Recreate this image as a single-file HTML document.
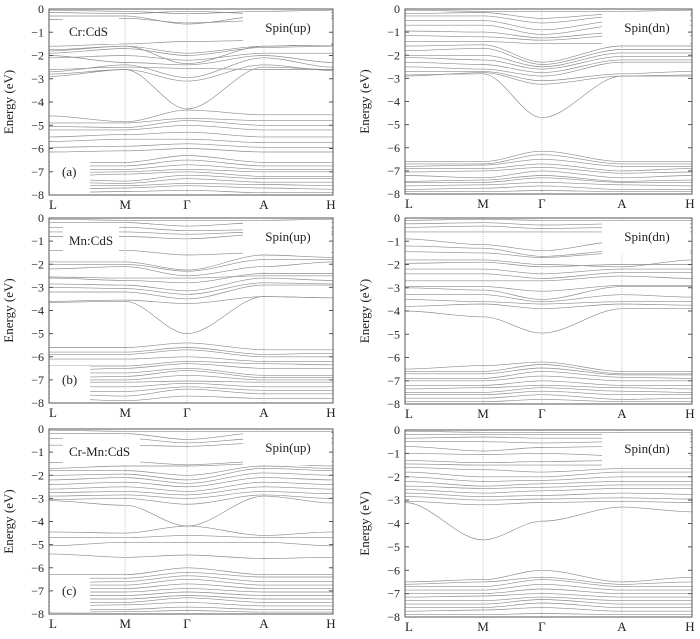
<!DOCTYPE html>
<html><head><meta charset="utf-8">
<style>
html,body{margin:0;padding:0;background:#fff;}
svg{display:block;font-family:"Liberation Serif",serif;}
</style></head>
<body>
<svg id="fig" width="700" height="639" viewBox="0 0 700 639"></svg>
<script>
const kLabels = ["L","M","Γ","A","H"];
const yTicks = [0,-1,-2,-3,-4,-5,-6,-7,-8];
// band energies (eV) at L, M, Γ, A, H
const bandsCrUp = [
 [-0.05,-0.1,-0.2,-0.1,-0.05],[-0.15,-0.2,-0.1,-0.2,-0.15],[-0.3,-0.3,-0.65,-0.3,-0.3],[-0.45,-0.4,-0.6,-0.5,-0.4],
 [-1.6,-1.5,-1.4,-1.35,-1.5],[-1.8,-1.6,-1.9,-1.6,-1.5],[-1.75,-1.6,-2.35,-1.6,-1.55],[-1.9,-1.7,-2.0,-1.65,-1.6],
 [-2.0,-2.3,-2.4,-2.0,-2.3],[-2.1,-2.0,-2.2,-1.9,-1.9],[-2.6,-2.5,-2.55,-2.6,-2.6],[-2.7,-2.4,-2.95,-2.1,-2.5],
 [-2.9,-2.6,-3.1,-2.4,-2.65],[-2.8,-2.6,-4.3,-2.5,-2.6],
 [-4.6,-4.85,-4.35,-4.55,-4.55],[-4.9,-4.9,-4.7,-4.8,-4.8],[-5.05,-5.1,-4.8,-5.0,-5.0],[-5.2,-5.2,-5.0,-5.2,-5.2],
 [-5.5,-5.4,-5.3,-5.5,-5.5],[-5.7,-5.6,-5.6,-5.75,-5.75],[-5.95,-5.9,-5.8,-5.95,-5.95],[-6.15,-6.1,-6.0,-6.15,-6.15],
 [-6.6,-6.6,-6.3,-6.6,-6.6],[-6.75,-6.75,-6.5,-6.75,-6.75],[-6.9,-6.9,-6.7,-6.9,-6.9],[-7.05,-7.0,-6.9,-7.0,-7.0],
 [-7.2,-7.1,-7.0,-7.2,-7.2],[-7.3,-7.4,-7.15,-7.3,-7.3],[-7.45,-7.5,-7.3,-7.45,-7.45],[-7.6,-7.6,-7.5,-7.55,-7.6],
 [-7.75,-7.7,-7.6,-7.7,-7.75],[-7.9,-7.85,-7.8,-7.9,-7.9]
];
const bandsCrDn = [
 [-0.05,-0.1,-0.1,-0.1,-0.05],[-0.2,-0.15,-0.4,-0.2,-0.2],[-0.3,-0.3,-0.6,-0.3,-0.3],[-0.5,-0.5,-0.9,-0.5,-0.5],
 [-0.7,-0.7,-1.1,-0.7,-0.7],[-0.95,-1.0,-1.25,-1.0,-1.0],[-1.15,-1.2,-1.35,-1.15,-1.15],[-1.4,-1.4,-1.5,-1.5,-1.5],
 [-1.6,-1.55,-2.3,-1.6,-1.6],[-1.8,-1.7,-2.4,-1.75,-1.75],[-2.0,-2.0,-2.5,-1.9,-1.9],[-2.1,-2.2,-2.6,-2.05,-2.05],
 [-2.3,-2.4,-2.75,-2.2,-2.2],[-2.5,-2.6,-2.9,-2.3,-2.3],[-2.7,-2.7,-3.1,-2.8,-2.7],[-2.9,-2.75,-3.25,-2.9,-2.85],
 [-2.85,-2.8,-4.7,-2.9,-2.9],
 [-6.6,-6.6,-6.15,-6.6,-6.6],[-6.7,-6.7,-6.3,-6.7,-6.7],[-6.8,-6.75,-6.5,-6.8,-6.8],[-6.9,-6.9,-6.7,-7.0,-6.9],
 [-7.05,-7.0,-6.85,-7.1,-7.05],[-7.2,-7.3,-7.0,-7.3,-7.2],[-7.45,-7.4,-7.2,-7.45,-7.4],[-7.5,-7.5,-7.3,-7.5,-7.5],
 [-7.65,-7.6,-7.5,-7.6,-7.65],[-7.8,-7.75,-7.65,-7.8,-7.8],[-7.9,-7.9,-7.85,-7.9,-7.9]
];
const bandsMnUp = [
 [-0.05,-0.1,-0.1,-0.1,-0.05],[-0.2,-0.2,-0.35,-0.2,-0.2],[-0.4,-0.4,-0.55,-0.5,-0.4],[-0.6,-0.6,-0.7,-0.6,-0.6],
 [-0.8,-0.8,-0.9,-0.7,-0.7],[-1.4,-1.4,-1.6,-1.5,-1.5],[-1.9,-1.9,-2.25,-1.6,-1.7],[-2.0,-2.0,-2.3,-1.8,-1.8],
 [-2.2,-2.1,-2.5,-2.1,-1.9],[-2.55,-2.6,-2.6,-2.5,-2.5],[-2.6,-2.7,-2.8,-2.4,-2.4],[-2.85,-2.9,-3.15,-2.6,-2.7],
 [-3.0,-3.05,-3.3,-2.8,-2.85],[-3.2,-3.2,-3.5,-2.9,-2.9],[-3.6,-3.55,-3.7,-3.4,-3.45],[-3.65,-3.6,-5.0,-3.4,-3.45],
 [-5.6,-5.6,-5.4,-5.7,-5.7],[-5.8,-5.8,-5.6,-5.9,-5.85],[-5.9,-5.9,-5.7,-6.0,-6.0],[-6.1,-6.1,-6.0,-6.2,-6.2],
 [-6.4,-6.4,-6.2,-6.3,-6.35],[-6.6,-6.5,-6.3,-6.5,-6.5],[-6.7,-6.7,-6.5,-6.8,-6.8],[-6.9,-6.85,-6.6,-6.9,-6.9],
 [-7.0,-7.0,-6.8,-7.0,-7.0],[-7.1,-7.1,-7.05,-7.1,-7.1],[-7.3,-7.3,-7.15,-7.3,-7.3],[-7.5,-7.5,-7.3,-7.45,-7.45],
 [-7.6,-7.7,-7.4,-7.6,-7.6],[-7.8,-7.9,-7.7,-7.8,-7.8]
];
const bandsMnDn = [
 [-0.1,-0.05,-0.1,-0.1,-0.1],[-0.25,-0.2,-0.3,-0.25,-0.25],[-0.4,-0.35,-0.45,-0.4,-0.4],[-0.6,-0.6,-0.6,-0.6,-0.6],
 [-0.9,-1.15,-1.4,-1.0,-1.0],[-1.2,-1.3,-1.65,-1.4,-1.4],[-1.45,-1.5,-1.7,-1.5,-1.5],[-1.8,-1.8,-2.0,-2.1,-1.8],
 [-1.95,-1.9,-2.1,-2.0,-2.0],[-2.2,-2.2,-2.4,-2.2,-2.2],[-2.4,-2.4,-2.6,-2.35,-2.35],[-2.7,-2.7,-2.7,-2.5,-2.6],
 [-2.95,-2.95,-3.15,-2.9,-2.9],[-3.0,-3.1,-3.5,-2.95,-2.95],[-3.3,-3.3,-3.6,-3.3,-3.4],[-3.5,-3.6,-3.7,-3.6,-3.6],
 [-3.8,-3.7,-3.9,-3.7,-3.75],[-4.0,-4.25,-4.95,-3.9,-3.9],
 [-6.5,-6.35,-6.2,-6.6,-6.6],[-6.6,-6.6,-6.3,-6.7,-6.7],[-6.7,-6.7,-6.45,-6.75,-6.75],[-6.9,-6.9,-6.6,-6.85,-6.9],
 [-7.0,-7.0,-6.8,-7.0,-7.0],[-7.2,-7.2,-7.0,-7.2,-7.2],[-7.35,-7.3,-7.2,-7.3,-7.35],[-7.5,-7.5,-7.3,-7.45,-7.5],
 [-7.6,-7.6,-7.45,-7.6,-7.6],[-7.75,-7.75,-7.6,-7.8,-7.75],[-7.9,-7.9,-7.8,-7.9,-7.9]
];
const bandsCrMnUp = [
 [-0.05,-0.1,-0.1,-0.1,-0.1],[-0.2,-0.2,-0.45,-0.15,-0.15],[-0.4,-0.4,-0.6,-0.4,-0.4],[-0.7,-0.7,-0.75,-0.6,-0.6],
 [-1.45,-1.4,-1.55,-1.4,-1.4],[-1.7,-1.6,-1.6,-1.5,-1.6],[-1.8,-1.8,-2.0,-1.6,-1.7],[-2.0,-1.95,-2.2,-1.7,-1.8],
 [-2.2,-2.1,-2.35,-1.9,-2.0],[-2.4,-2.3,-2.5,-2.1,-2.2],[-2.6,-2.5,-2.7,-2.3,-2.4],[-2.75,-2.7,-2.85,-2.5,-2.6],
 [-2.9,-2.85,-3.0,-2.7,-2.8],[-3.05,-3.0,-3.25,-2.85,-3.0],[-3.1,-3.3,-4.2,-2.9,-3.2],
 [-4.45,-4.5,-4.2,-4.6,-4.45],[-4.7,-4.7,-4.6,-4.7,-4.7],[-5.05,-4.9,-4.9,-4.9,-5.05],[-5.4,-5.55,-5.45,-5.6,-5.55],
 [-6.3,-6.3,-6.0,-6.3,-6.3],[-6.45,-6.45,-6.2,-6.4,-6.4],[-6.65,-6.6,-6.35,-6.6,-6.6],[-6.75,-6.75,-6.5,-6.75,-6.75],
 [-6.9,-6.9,-6.7,-6.9,-6.9],[-7.05,-7.05,-6.9,-7.05,-7.05],[-7.2,-7.2,-7.05,-7.2,-7.2],[-7.35,-7.35,-7.2,-7.35,-7.35],
 [-7.5,-7.5,-7.3,-7.5,-7.5],[-7.65,-7.6,-7.5,-7.65,-7.65],[-7.8,-7.8,-7.7,-7.8,-7.8],[-7.92,-7.9,-7.85,-7.92,-7.92]
];
const bandsCrMnDn = [
 [-0.05,-0.1,-0.1,-0.1,-0.1],[-0.2,-0.2,-0.2,-0.2,-0.2],[-0.35,-0.3,-0.35,-0.35,-0.35],[-0.5,-0.5,-0.55,-0.5,-0.5],
 [-0.7,-0.9,-0.75,-0.7,-0.75],[-1.0,-1.05,-1.0,-1.1,-1.1],[-1.3,-1.4,-1.35,-1.3,-1.3],[-1.45,-1.5,-1.5,-1.5,-1.5],
 [-1.6,-1.7,-1.8,-1.65,-1.65],[-1.8,-2.0,-2.0,-1.8,-1.8],[-2.0,-2.2,-2.15,-2.0,-2.0],[-2.2,-2.4,-2.3,-2.2,-2.2],
 [-2.4,-2.5,-2.45,-2.35,-2.35],[-2.55,-2.7,-2.6,-2.5,-2.5],[-2.7,-2.85,-2.8,-2.7,-2.75],[-2.85,-3.0,-2.95,-2.9,-2.95],
 [-3.05,-3.2,-3.1,-3.05,-3.1],[-3.1,-4.7,-3.9,-3.3,-3.5],
 [-6.5,-6.4,-6.0,-6.5,-6.3],[-6.6,-6.5,-6.3,-6.6,-6.5],[-6.7,-6.7,-6.4,-6.7,-6.7],[-6.85,-6.85,-6.6,-6.85,-6.85],
 [-7.0,-7.0,-6.8,-7.0,-7.0],[-7.15,-7.1,-7.0,-7.15,-7.15],[-7.3,-7.3,-7.15,-7.3,-7.3],[-7.45,-7.45,-7.25,-7.45,-7.45],
 [-7.6,-7.6,-7.4,-7.6,-7.6],[-7.75,-7.7,-7.6,-7.75,-7.75],[-7.9,-7.9,-7.85,-7.9,-7.9]
];
const panels = [
 {bands:bandsCrUp, x0:49,x1:333,y0:9,y1:195, kf:[0,0.268,0.486,0.757,1], label:"Cr:CdS", spin:"Spin(up)", tag:"(a)", name:"panel-cr-up"},
 {bands:bandsCrDn, x0:405,x1:692,y0:9,y1:194, kf:[0,0.272,0.477,0.756,1], label:null, spin:"Spin(dn)", tag:null, name:"panel-cr-dn"},
 {bands:bandsMnUp, x0:49,x1:333,y0:218,y1:403, kf:[0,0.268,0.486,0.757,1], label:"Mn:CdS", spin:"Spin(up)", tag:"(b)", name:"panel-mn-up"},
 {bands:bandsMnDn, x0:405,x1:692,y0:218,y1:404, kf:[0,0.272,0.477,0.756,1], label:null, spin:"Spin(dn)", tag:null, name:"panel-mn-dn"},
 {bands:bandsCrMnUp, x0:49,x1:333,y0:429,y1:614, kf:[0,0.268,0.486,0.757,1], label:"Cr-Mn:CdS", spin:"Spin(up)", tag:"(c)", name:"panel-crmn-up"},
 {bands:bandsCrMnDn, x0:405,x1:692,y0:430,y1:617, kf:[0,0.272,0.477,0.756,1], label:null, spin:"Spin(dn)", tag:null, name:"panel-crmn-dn"}
];
const NS="http://www.w3.org/2000/svg";
const svg=document.getElementById('fig');
function mk(tag,attrs,parent){const e=document.createElementNS(NS,tag);for(const k in attrs)e.setAttribute(k,attrs[k]);(parent||svg).appendChild(e);return e;}
panels.forEach((p,pi)=>{
 const g=mk('g',{});
 
 
 const xs=f=>p.x0+f*(p.x1-p.x0);
 const ys=v=>p.y0+(0-v)/8*(p.y1-p.y0);
 for(let i=1;i<4;i++){
  const l=mk('line',{x1:xs(p.kf[i]),x2:xs(p.kf[i]),y1:p.y0,y2:p.y1,stroke:'#aaa','stroke-width':0.7,'stroke-dasharray':'1,1'},g);
  
  
 }
 p.bands.forEach(b=>{
  let d='M'+xs(p.kf[0]).toFixed(1)+' '+ys(b[0]).toFixed(1);
  for(let i=1;i<5;i++){
   const xa=xs(p.kf[i-1]),xb=xs(p.kf[i]),dx=(xb-xa)/3;
   d+=' C'+(xa+dx).toFixed(1)+' '+ys(b[i-1]).toFixed(1)+' '+(xb-dx).toFixed(1)+' '+ys(b[i]).toFixed(1)+' '+xb.toFixed(1)+' '+ys(b[i]).toFixed(1);
  }
  const path=mk('path',{d:d,fill:'none',stroke:'#8c8c8c','stroke-width':0.65},g);
  
  
 });
 if(p.label){
  const bw=p.label.length*7+14;
  mk('rect',{x:p.x0+14,y:p.y0+8,width:bw,height:27,fill:'#fff'},g);
  const t=mk('text',{x:p.x0+20,y:p.y0+27,'font-size':13,fill:'#222'},g);t.textContent=p.label;
  
  
 }
 mk('rect',{x:p.x1-90,y:p.y0+3,width:88,height:33,fill:'#fff'},g);
 const s=mk('text',{x:p.x1-45,y:p.y0+23,'font-size':13,fill:'#222','text-anchor':'middle'},g);s.textContent=p.spin;
 
 
 if(p.tag){
  mk('rect',{x:p.x0+1,y:p.y1-37,width:40,height:35,fill:'#fff'},g);
  const t=mk('text',{x:p.x0+13,y:p.y1-19,'font-size':13,fill:'#222'},g);t.textContent=p.tag;
  
  
 }
 const fr=mk('rect',{x:p.x0,y:p.y0,width:p.x1-p.x0,height:p.y1-p.y0,fill:'none',stroke:'#555','stroke-width':1},g);
 
 
 yTicks.forEach(v=>{
  mk('line',{x1:p.x0,x2:p.x0+4,y1:ys(v),y2:ys(v),stroke:'#555','stroke-width':1},g);
  mk('line',{x1:p.x1,x2:p.x1-4,y1:ys(v),y2:ys(v),stroke:'#555','stroke-width':1},g);
  const t=mk('text',{x:p.x0-5,y:ys(v)+4,'font-size':12,fill:'#222','text-anchor':'end'},g);
  t.textContent=v===0?'0':'−'+Math.abs(v);
  
  
 });
 kLabels.forEach((k,i)=>{
  const t=mk('text',{x:xs(p.kf[i])+(i===0?4:i===4?-2:0),y:p.y1+14,'font-size':13,fill:'#222','text-anchor':'middle'},g);
  t.textContent=k;
  
  
 });
 const cy=(p.y0+p.y1)/2, cx=p.x0-36;
 const yt=mk('text',{x:cx,y:cy,'font-size':13,fill:'#222','text-anchor':'middle',transform:'rotate(-90 '+cx+' '+cy+')'},g);
 yt.textContent='Energy (eV)';
 
 
});
</script>
</body></html>
